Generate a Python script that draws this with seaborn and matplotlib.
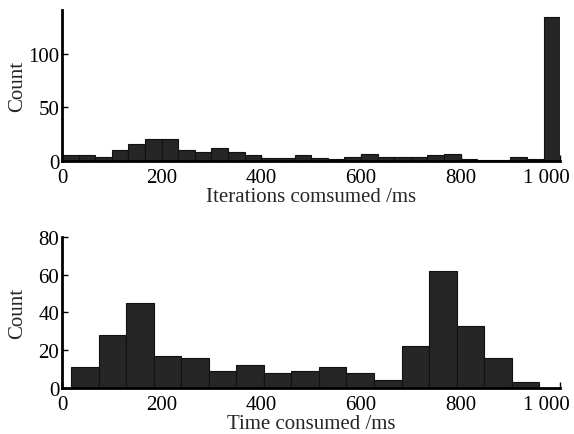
import numpy as np
import pandas as pd
import matplotlib
matplotlib.use("Agg")
import matplotlib.pyplot as plt
import matplotlib.transforms as mtransforms
import seaborn as sns

# ---- data ----
iter_counts = [5, 5, 4, 10, 16, 20, 20, 10, 8, 12, 8, 5, 3, 3, 5,
               3, 2, 4, 6, 4, 4, 4, 5, 6, 2, 1, 1, 4, 2, 134]
iter_bin_start = 0.0
iter_bin_width = 1000.0 / 30

time_counts = [11, 28, 45, 17, 16, 9, 12, 8, 9, 11, 8, 4, 22, 62, 33, 16, 3]
time_bin_start = 18.0
time_bin_width = 55.3

x_ticks = [0, 200, 400, 600, 800, 1000]
x_tick_labels = ["0", "200", "400", "600", "800", "1 000"]
top_y_ticks = [0, 50, 100]
bottom_y_ticks = [0, 20, 40, 60, 80]
top_xlabel = "Iterations comsumed /ms"
bottom_xlabel = "Time consumed /ms"
ylabel = "Count"

sns.set_theme(style="ticks")
plt.rcParams["font.family"] = ["Liberation Serif", "DejaVu Serif"]
plt.rcParams["font.size"] = 15
plt.rcParams["xtick.direction"] = "in"
plt.rcParams["ytick.direction"] = "in"

fig = plt.figure(figsize=(5.74, 4.35), dpi=100)
ax1 = fig.add_axes([0.108, 0.628, 0.868, 0.347])
ax2 = fig.add_axes([0.108, 0.106, 0.868, 0.347])

bar_face = "#262626"
bar_edge = "#111111"


def draw(ax, counts, start, width):
    n = len(counts)
    edges = [float(start + width * i) for i in range(n + 1)]
    centers = [(edges[i] + edges[i + 1]) / 2 for i in range(n)]
    df = pd.DataFrame({"x": centers, "w": [float(c) for c in counts]})
    sns.histplot(data=df, x="x", weights="w", bins=edges, ax=ax,
                 color=bar_face, edgecolor=bar_edge, linewidth=0.8, alpha=1.0)


draw(ax1, iter_counts, iter_bin_start, iter_bin_width)
draw(ax2, time_counts, time_bin_start, time_bin_width)

for ax, yt, ylim, xl in [(ax1, top_y_ticks, (0, 141), top_xlabel),
                         (ax2, bottom_y_ticks, (0, 80), bottom_xlabel)]:
    ax.set_xlim(0, 1000)
    ax.set_ylim(*ylim)
    ax.set_xticks(x_ticks)
    ax.set_xticklabels(x_tick_labels)
    ax.set_yticks(yt)
    ax.set_xlabel(xl, fontsize=15)
    ax.set_ylabel(ylabel, fontsize=15)
    ax.xaxis.label.set_va("center")
    ax.yaxis.label.set_va("center")
    ax.xaxis.set_label_coords(0.5, -0.235)
    ax.yaxis.set_label_coords(-0.09, 0.5)
    for s in ["top", "right"]:
        ax.spines[s].set_visible(False)
    for s in ["left", "bottom"]:
        ax.spines[s].set_color("black")
        ax.spines[s].set_linewidth(2.0)
    ax.tick_params(axis="both", labelsize=15, length=4, width=1, colors="black")
    ax.tick_params(axis="x", pad=5)
    ax.tick_params(axis="y", pad=2)
    ax.set_facecolor("white")
    # last tick label sits shifted left in the reference
    lbl = ax.get_xticklabels()[-1]
    lbl.set_transform(lbl.get_transform() +
                      mtransforms.ScaledTranslation(-14 / 100, 0, fig.dpi_scale_trans))

fig.savefig("out.png", dpi=100, facecolor="white")
